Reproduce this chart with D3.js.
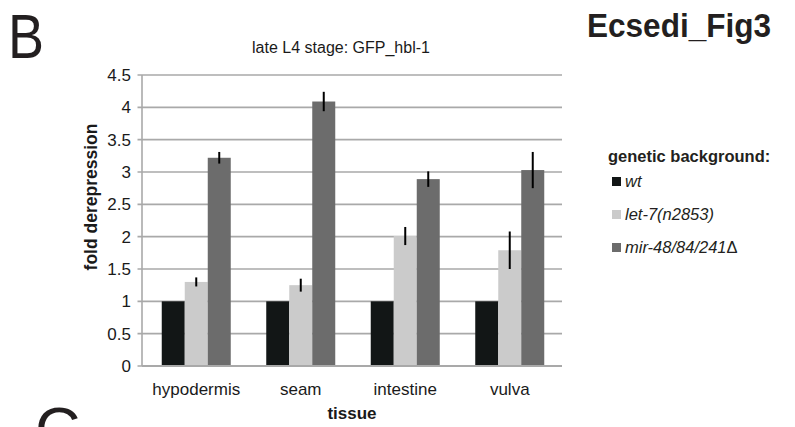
<!DOCTYPE html>
<html><head><meta charset="utf-8">
<script src="https://cdn.jsdelivr.net/npm/d3@7"></script>
<style>body{margin:0;background:#fff}svg{display:block;font-family:"Liberation Sans",Arial,sans-serif}</style>
</head><body><svg id="c" width="795" height="427"></svg>
<script>
const categories = ["hypodermis", "seam", "intestine", "vulva"];
const seriesNames = ["wt", "let-7(n2853)", "mir-48/84/241"];
const seriesSuffix = ["", "", "\u0394"];
const wtValues   = [1, 1, 1, 1];
const let7Values = [1.30, 1.25, 2.01, 1.79];
const mirValues  = [3.22, 4.09, 2.89, 3.03];
const wtErr   = [0, 0, 0, 0];
const let7Err = [0.07, 0.10, 0.14, 0.29];
const mirErr  = [0.09, 0.15, 0.12, 0.28];
const yTicks = [0, 0.5, 1, 1.5, 2, 2.5, 3, 3.5, 4, 4.5];
const colors = ["#121616", "#cbcbcb", "#6c6c6c"];

const series = [wtValues, let7Values, mirValues];
const errs = [wtErr, let7Err, mirErr];

const svg = d3.select("#c");
const y = d3.scaleLinear().domain([0, 4.5]).range([366, 75]);
const x0 = d3.scaleBand().domain(categories).range([144, 562]);
const x1 = d3.scaleBand().domain(d3.range(3)).range([0, 69]);
const axisLeft = 142, axisRight = 562;

// gridlines
svg.append("g").selectAll("line").data(yTicks).join("line")
  .attr("x1", axisLeft - 4.5).attr("x2", axisRight)
  .attr("y1", d => y(d)).attr("y2", d => y(d))
  .attr("stroke", "#a9a9a9").attr("stroke-width", 1.6);
svg.append("line").attr("x1", axisLeft).attr("x2", axisLeft)
  .attr("y1", y(4.5)).attr("y2", y(0))
  .attr("stroke", "#a9a9a9").attr("stroke-width", 1.6);

// y tick labels
svg.append("g").selectAll("text").data(yTicks).join("text")
  .attr("x", 131).attr("y", d => y(d) + 6)
  .attr("text-anchor", "end").attr("font-size", 17).attr("fill", "#1a1a1a")
  .text(d => d);

// bars
const rows = [];
categories.forEach((c, i) => series.forEach((s, j) => rows.push({c, j, v: s[i], e: errs[j][i]})));
const gx = c => x0(c) + (x0.bandwidth() - 69) / 2;
svg.append("g").selectAll("rect").data(rows).join("rect")
  .attr("x", d => gx(d.c) + x1(d.j)).attr("width", x1.bandwidth())
  .attr("y", d => y(d.v)).attr("height", d => y(0) - y(d.v))
  .attr("fill", d => colors[d.j]);

// error bars
svg.append("g").selectAll("line").data(rows.filter(d => d.e > 0)).join("line")
  .attr("x1", d => gx(d.c) + x1(d.j) + x1.bandwidth() / 2)
  .attr("x2", d => gx(d.c) + x1(d.j) + x1.bandwidth() / 2)
  .attr("y1", d => y(d.v + d.e)).attr("y2", d => y(d.v - d.e))
  .attr("stroke", "#000").attr("stroke-width", 2);

// baseline
svg.append("line").attr("x1", axisLeft).attr("x2", axisRight)
  .attr("y1", y(0)).attr("y2", y(0)).attr("stroke", "#a9a9a9").attr("stroke-width", 1.8);

// x labels
svg.append("g").selectAll("text").data(categories).join("text")
  .attr("x", d => x0(d) + x0.bandwidth() / 2).attr("y", 395)
  .attr("text-anchor", "middle").attr("font-size", 17).attr("fill", "#1a1a1a")
  .text(d => d);

svg.append("text").attr("x", 352).attr("y", 419).attr("text-anchor", "middle")
  .attr("font-size", 17).attr("font-weight", "bold").attr("fill", "#1a1a1a").text("tissue");

svg.append("text").attr("transform", "translate(96.5,197) rotate(-90)")
  .attr("text-anchor", "middle").attr("font-size", 17.5).attr("font-weight", "bold")
  .attr("fill", "#1a1a1a").text("fold derepression");

// title
svg.append("text").attr("x", 341).attr("y", 53).attr("text-anchor", "middle")
  .attr("font-size", 16).attr("fill", "#1a1a1a").text("late L4 stage: GFP_hbl-1");

svg.append("text").attr("x", 587).attr("y", 37)
  .attr("font-size", 34).attr("font-weight", "bold").attr("fill", "#231f20")
  .attr("textLength", 184).attr("lengthAdjust", "spacingAndGlyphs").text("Ecsedi_Fig3");

svg.append("text").attr("x", 8).attr("y", 58).attr("font-size", 63).attr("fill", "#231f20")
  .attr("textLength", 36).attr("lengthAdjust", "spacingAndGlyphs").text("B");
svg.append("text").attr("x", 35).attr("y", 451).attr("font-size", 63).attr("fill", "#231f20").text("C");

// legend
svg.append("text").attr("x", 608).attr("y", 162).attr("font-size", 16.5)
  .attr("font-weight", "bold").attr("fill", "#231f20").text("genetic background:");
const lg = svg.append("g").selectAll("g").data(seriesNames).join("g")
  .attr("transform", (d, i) => `translate(0,${i * 33})`);
lg.append("rect").attr("x", 612).attr("y", 177).attr("width", 9).attr("height", 9)
  .attr("fill", (d, i) => colors[i]);
const lt = lg.append("text").attr("x", 625).attr("y", 187).attr("font-size", 16.5)
  .attr("fill", "#231f20");
lt.append("tspan").attr("font-style", "italic").text(d => d);
lt.append("tspan").text((d, i) => seriesSuffix[i]);
</script></body></html>
